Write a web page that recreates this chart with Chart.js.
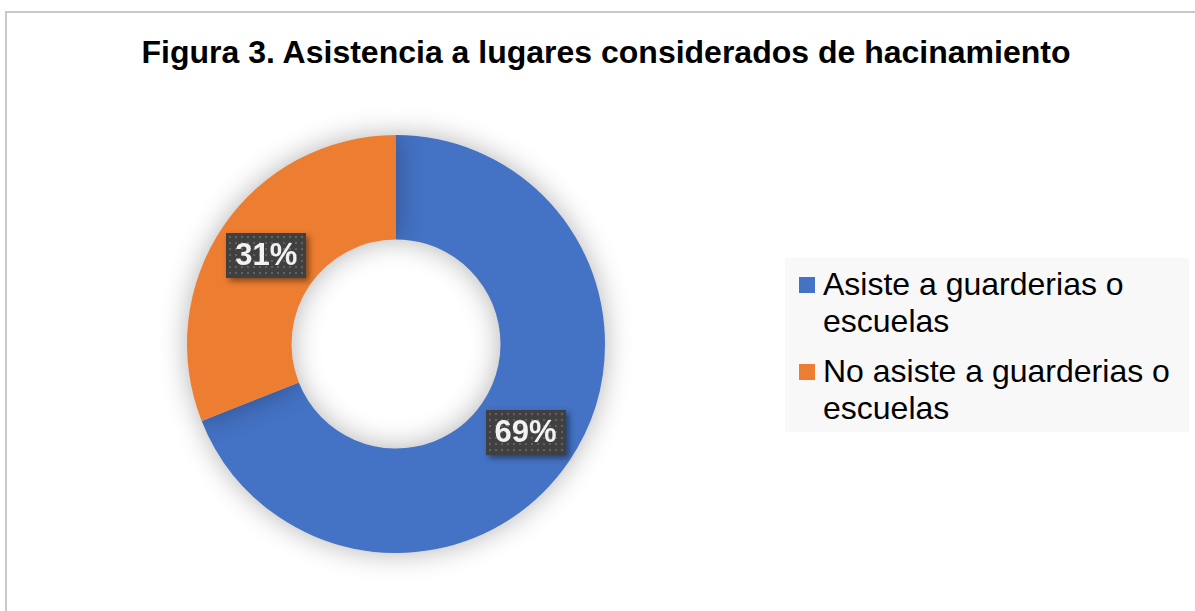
<!DOCTYPE html>
<html>
<head>
<meta charset="utf-8">
<script src="https://cdn.jsdelivr.net/npm/chart.js@4/dist/chart.umd.min.js"></script>
<style>
    html, body {
        margin: 0;
        padding: 0;
        background: #ffffff;
        font-family: "Liberation Sans", Arial, sans-serif;
    }
    #wrap {
        position: relative;
        width: 1195px;
        height: 611px;
        overflow: hidden;
    }
    #frame {
        position: absolute;
        left: 5px;
        top: 11px;
        width: 1300px;
        height: 700px;
        border-top: 2px solid #c9c9c9;
        border-left: 2px solid #c9c9c9;
        box-sizing: border-box;
    }
    #chartTitle {
        position: absolute;
        left: 0;
        top: 34px;
        width: 1212px;
        text-align: center;
        font-weight: bold;
        font-size: 32px;
        color: #000000;
    }
    canvas {
        position: absolute;
        left: 0;
        top: 0;
    }
    #legendBox {
        position: absolute;
        left: 785px;
        top: 258px;
        width: 404px;
        height: 174px;
        background: #f8f8f8;
        box-sizing: border-box;
        padding: 8px 0 0 38px;
    }
    .legendItem {
        position: relative;
        font-size: 32px;
        line-height: 37px;
        color: #000000;
        margin-bottom: 13px;
    }
    .legendItem span {
        position: absolute;
        left: -24px;
        top: 11px;
        width: 16px;
        height: 16px;
    }
</style>
</head>
<body>
<div id="wrap">
    <div id="frame"></div>
    <div id="chartTitle">Figura 3. Asistencia a lugares considerados de hacinamiento</div>
    <canvas id="donutChart" width="1195" height="611"></canvas>
    <div id="legendBox"></div>
</div>

<script>
const categories = ["Asiste a guarderias o escuelas", "No asiste a guarderias o escuelas"];
const legendLines = [["Asiste a guarderias o", "escuelas"], ["No asiste a guarderias o", "escuelas"]];
const percentages = [69, 31];
const sliceColors = ["#4472C4", "#ED7D31"];

// legend on the right, two lines per entry
const legendBox = document.getElementById("legendBox");
categories.forEach((cat, i) => {
    const item = document.createElement("div");
    item.className = "legendItem";
    const swatch = document.createElement("span");
    swatch.style.background = sliceColors[i];
    item.appendChild(swatch);
    item.appendChild(document.createTextNode(legendLines[i][0]));
    item.appendChild(document.createElement("br"));
    item.appendChild(document.createTextNode(legendLines[i][1]));
    legendBox.appendChild(item);
});

// soft glow behind the ring
const ringShadow = {
    id: "ringShadow",
    beforeDatasetsDraw(chart) {
        const ctx = chart.ctx;
        ctx.save();
        ctx.shadowColor = "rgba(0,0,0,0.3)";
        ctx.shadowBlur = 28;
        ctx.shadowOffsetX = 0;
        ctx.shadowOffsetY = 0;
    },
    afterDatasetsDraw(chart) {
        chart.ctx.restore();
    }
};

// dark dotted boxes with the percentage in the middle of each slice
const sliceLabels = {
    id: "sliceLabels",
    afterDraw(chart) {
        const ctx = chart.ctx;
        const meta = chart.getDatasetMeta(0);
        const boxW = 80;
        const boxH = 45;

        meta.data.forEach((arc, i) => {
            const pos = arc.getCenterPoint();
            const x = Math.round(pos.x - boxW / 2);
            const y = Math.round(pos.y - boxH / 2);

            ctx.save();
            ctx.shadowColor = "rgba(0,0,0,0.45)";
            ctx.shadowBlur = 6;
            ctx.shadowOffsetX = 3;
            ctx.shadowOffsetY = 3;
            ctx.fillStyle = "#404040";
            ctx.fillRect(x, y, boxW, boxH);
            ctx.restore();

            ctx.save();
            ctx.fillStyle = "#616161";
            for (let dy = 3; dy < boxH - 1; dy += 6) {
                for (let dx = 3; dx < boxW - 1; dx += 6) {
                    ctx.fillRect(x + dx, y + dy, 2, 2);
                }
            }
            ctx.restore();

            ctx.save();
            ctx.fillStyle = "#f2f2f2";
            ctx.font = "bold 31px 'Liberation Sans', Arial, sans-serif";
            ctx.textAlign = "center";
            ctx.textBaseline = "middle";
            ctx.fillText(percentages[i] + "%", pos.x, pos.y + 1);
            ctx.restore();
        });
    }
};

new Chart(document.getElementById("donutChart"), {
    type: "doughnut",
    data: {
        labels: categories,
        datasets: [{
            data: percentages,
            backgroundColor: sliceColors,
            borderWidth: 0
        }]
    },
    options: {
        responsive: false,
        animation: false,
        cutout: "50%",
        layout: {
            padding: { left: 187, right: 590, top: 135, bottom: 58 }
        },
        plugins: {
            legend: { display: false },
            title: { display: false },
            tooltip: { enabled: false }
        }
    },
    plugins: [ringShadow, sliceLabels]
});
</script>
</body>
</html>
